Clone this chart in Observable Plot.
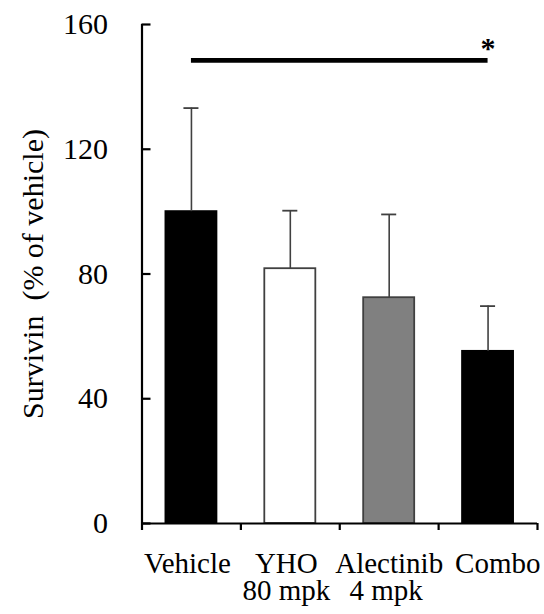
<!DOCTYPE html>
<html><head><meta charset="utf-8">
<script src="https://cdn.jsdelivr.net/npm/d3@7"></script>
<script src="https://cdn.jsdelivr.net/npm/@observablehq/plot@0.6"></script>
<style>body{margin:0;background:#fff}</style>
</head><body><div id="chart"></div>
<script>
const categories = ["Vehicle", "YHO\n80 mpk", "Alectinib\n4 mpk", "Combo"];
const means = [100, 81.7, 72.4, 55.2];
const errors = [33.2, 18.6, 26.7, 14.5];
const fills = ["#000000", "#ffffff", "#808080", "#000000"];
const yTicks = [0, 40, 80, 120, 160];
const yLabel = "Survivin\u00a0 (% of vehicle)";
const sigPair = ["Vehicle", "Combo"];
const sigLevel = 148.5;
const sigText = "*";

const data = categories.map((c, i) => ({cat: c, i, mean: means[i], err: errors[i], fill: fills[i]}));
const n = categories.length;
const barHalf = 0.258, capHalf = 0.076;
const idx = name => categories.findIndex(c => c.split("\n")[0] === name);
const sig = [{x1: idx(sigPair[0]) + 0.5, x2: idx(sigPair[1]) + 0.5, y: sigLevel}];
const font = "'Liberation Serif', 'Times New Roman', serif";
const axisColor = "#000";
const errColor = "#404040";

// one text row per label line, so the lines are laid out separately
const labelLines = data.flatMap(d => d.cat.split("\n").map((t, row) => ({i: d.i, t, row})));
const lineSets = [
  {rows: labelLines.filter(l => l.row === 0 && l.i < n - 2), dx: -4, dy: 29},
  {rows: labelLines.filter(l => l.row === 0 && l.i === n - 2), dx: 0, dy: 29},
  {rows: labelLines.filter(l => l.row === 1 && l.i < n - 2), dx: -4, dy: 56},
  {rows: labelLines.filter(l => l.row === 1 && l.i === n - 2), dx: -3, dy: 56}
];
const lastLines = labelLines.filter(l => l.i === n - 1);
const labelOpts = {y: 0, text: "t", lineAnchor: "top", fontSize: 29, fill: "#000"};

const chart = Plot.plot({
  width: 544, height: 614,
  marginLeft: 141.5, marginRight: 7, marginTop: 24, marginBottom: 91,
  style: {fontFamily: font, fontSize: "30px", background: "#fff", color: "#000"},
  x: {domain: [0, n], axis: null},
  y: {domain: [0, 160], axis: null},
  marks: [
    Plot.rectY(data, {x1: d => d.i + 0.5 - barHalf, x2: d => d.i + 0.5 + barHalf, y1: 0, y2: "mean",
      fill: d => d.fill, stroke: d => d.fill === "#000000" ? "#000" : errColor, strokeWidth: 1.8}),
    Plot.ruleX(data, {x: d => d.i + 0.5, y1: "mean", y2: d => d.mean + d.err, stroke: errColor, strokeWidth: 1.6}),
    Plot.ruleY(data, {x1: d => d.i + 0.5 - capHalf, x2: d => d.i + 0.5 + capHalf, y: d => d.mean + d.err, stroke: errColor, strokeWidth: 1.8}),
    // axes
    Plot.ruleX([0], {y1: 0, y2: 160, stroke: axisColor, strokeWidth: 2.2}),
    Plot.ruleY([0], {x1: 0, x2: n, stroke: axisColor, strokeWidth: 2.2}),
    Plot.axisY({ticks: yTicks, tickSize: -9, tickFormat: () => "", label: null, strokeWidth: 2.2}),
    Plot.axisY({ticks: yTicks, tickSize: 0, tickPadding: 34, fontSize: 30, label: null}),
    Plot.axisX({ticks: d3.range(n + 1), tickSize: 7, tickFormat: () => "", label: null, strokeWidth: 2.2}),
    ...lineSets.map(s => Plot.text(s.rows, {...labelOpts, x: d => d.i + 0.5, dx: s.dx, dy: s.dy})),
    Plot.text(lastLines, {...labelOpts, x: n, textAnchor: "end", dx: 3, dy: 29}),
    Plot.text([yLabel], {frameAnchor: "left", rotate: -90, textAnchor: "middle", dx: -108.5, fontSize: 30, fill: "#000"}),
    // significance
    Plot.ruleY(sig, {x1: "x1", x2: "x2", y: "y", stroke: "#000", strokeWidth: 4.8}),
    Plot.text(sig, {x: "x2", y: "y", text: () => sigText, lineAnchor: "bottom", dy: -2, fontSize: 30, fontWeight: "bold", fill: "#000"})
  ]
});
document.getElementById("chart").append(chart);
</script>
</body></html>
